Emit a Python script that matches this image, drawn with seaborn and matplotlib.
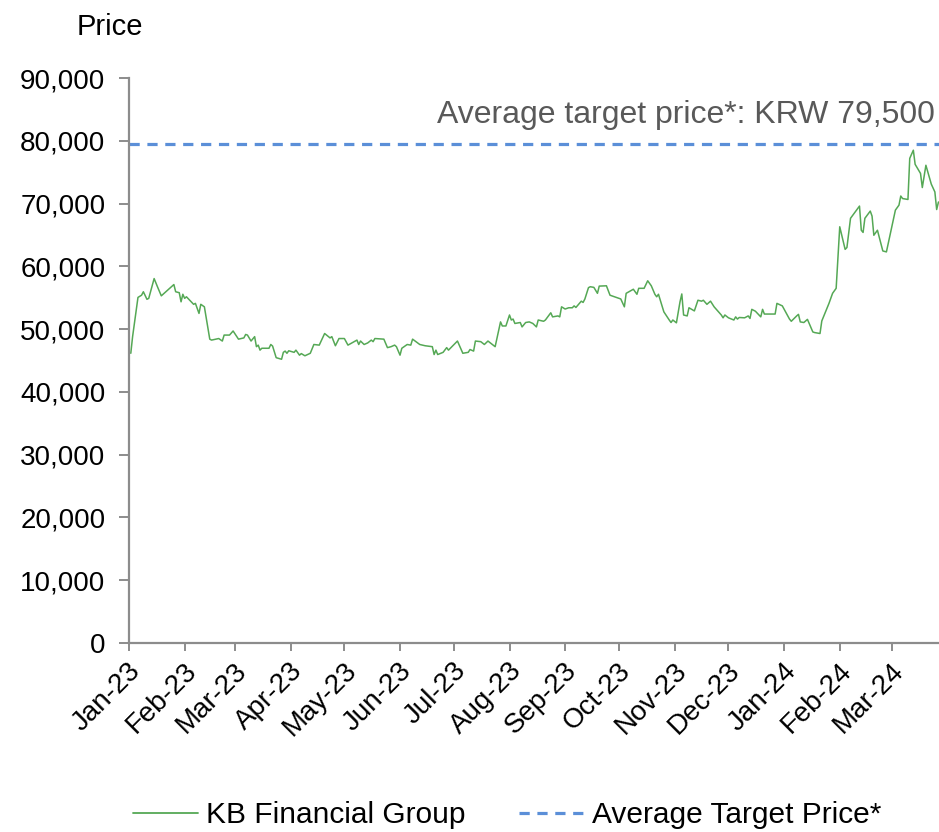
import matplotlib
matplotlib.use("Agg")
import matplotlib.pyplot as plt
import matplotlib.dates as mdates
import matplotlib.transforms as mtransforms
from matplotlib.lines import Line2D
import seaborn as sns
import pandas as pd

# ---- data ----
days_since_2023_01_01 = [
    1, 2, 5, 7, 8, 10, 11, 14, 16, 18, 25, 26, 28, 29, 30, 31, 32, 36, 37, 39,
    40, 42, 45, 46, 50, 52, 53, 56, 58, 61, 64, 65, 66, 68, 70, 71, 72, 73, 74,
    78, 79, 80, 82, 85, 86, 87, 88, 89, 92, 93, 95, 96, 98, 101, 103, 106, 109,
    112, 113, 115, 117, 120, 122, 127, 128, 129, 131, 133, 135, 136, 137, 142,
    144, 146, 148, 149, 151, 152, 155, 157, 158, 162, 165, 169, 170, 171, 172,
    175, 177, 178, 183, 184, 186, 189, 190, 192, 193, 196, 198, 200, 204, 207,
    208, 210, 212, 213, 214, 215, 218, 219, 221, 223, 225, 227, 228, 231, 232,
    235, 236, 239, 240, 241, 243, 245, 247, 248, 249, 252, 253, 254, 256, 257,
    259, 261, 262, 266, 268, 274, 276, 277, 280, 281, 283, 284, 287, 289, 291,
    293, 294, 295, 298, 301, 302, 303, 305, 307, 308, 309, 311, 312, 315, 317,
    319, 320, 322, 324, 326, 330, 331, 332, 334, 337, 338, 339, 340, 343, 345,
    346, 347, 349, 352, 353, 354, 360, 361, 364, 368, 369, 372, 373, 374, 376,
    378, 381, 382, 385, 386, 390, 392, 394, 396, 399, 400, 402, 407, 408, 409,
    410, 413, 414, 415, 417, 420, 422, 427, 429, 430, 431, 434, 435, 437, 438,
    441, 442, 444, 447, 449, 450, 451,
]
price_krw = [
    46150, 48800, 55050, 55400, 55950, 54750, 54900, 58050, 56650, 55300,
    57100, 55950, 55800, 54350, 55550, 54900, 55150, 53950, 54100, 52500,
    53950, 53550, 48400, 48250, 48500, 48100, 49050, 49050, 49700, 48400,
    48600, 49150, 49050, 48100, 48800, 47200, 47450, 46650, 46950,
    46950, 47550, 47300, 45450, 45200, 46300, 46500, 46150, 46550, 46300,
    46650, 45850, 46100, 45750, 46150, 47550, 47450, 49300,
    48600, 48800, 47350, 48500, 48500, 47450, 48250, 47550, 48100, 47550,
    47800, 48250, 48000, 48500, 48400,
    47050, 47200, 47450, 47200, 45850, 46950, 47550, 47450, 48400, 47550,
    47350, 47200, 45950, 46650, 45950,
    46300, 47050, 46650, 48100, 47450, 46150, 46300, 46750, 46500, 48100,
    48000, 47550, 48100, 47200, 51150,
    50500, 50500, 52250, 51450, 51600, 50900, 51050, 50350, 51050, 51150,
    50900, 50350, 51450, 51250, 51450,
    52600, 51950, 52100, 51950, 53550, 53200, 53400, 53400, 53700, 53450,
    54450, 54250, 54800, 56600, 56750,
    56650, 55700, 56850, 56900, 55400, 54800, 53550, 55700, 56200, 56350,
    55550, 56500, 56500, 57700, 56900,
    55550, 55150, 55550, 52750, 51450, 51050, 51450, 51000, 54350, 55600,
    52250, 52100, 53400, 52900, 54600,
    54450, 54600, 53950, 54450, 53550, 52250, 51800, 52250, 51800, 51450,
    51950, 51600, 51850, 51800, 52100,
    51700, 53150, 52850, 51950, 53150, 52400, 52400, 54100, 53700, 51600,
    51250, 52100, 52350, 51150, 51050,
    51550, 49550, 49450, 49300, 51300, 54100, 55700, 56500, 66300, 62700,
    63000, 67650, 69600, 65750, 65400,
    67650, 68800, 68000, 64950, 65750, 62450, 62300, 68950, 69750, 71200,
    70800, 70650, 77200, 78500, 76250,
    74800, 72550, 76100, 73100, 71850, 69050, 70250,
]
series_name = "KB Financial Group"
target_name = "Average Target Price*"
average_target_price = 79500
annotation_text = "Average target price*: KRW 79,500"
y_ticks = [0, 10000, 20000, 30000, 40000, 50000, 60000, 70000, 80000, 90000]
month_ticks = pd.date_range("2023-01-01", "2024-03-01", freq="MS")

start = pd.Timestamp("2023-01-01")
df = pd.DataFrame({
    "date": start + pd.to_timedelta(days_since_2023_01_01, unit="D"),
    "price": price_krw,
})

# ---- style ----
sns.set_style("white")
plt.rcParams["font.family"] = ["Liberation Sans", "DejaVu Sans"]
plt.rcParams["text.color"] = "black"

W, H = 939, 832
fig = plt.figure(figsize=(W / 100, H / 100), dpi=100)
ax = fig.add_axes([129 / W, (H - 643) / H, 1 - 129 / W, (643 - 78) / H])

green = "#55a855"
blue = "#5b8fd8"
gray = "#8c8c8c"

sns.lineplot(data=df, x="date", y="price", ax=ax, color=green, linewidth=1.1,
             legend=False)
ax.axhline(average_target_price, color=blue, linewidth=2.3,
           dashes=(3.2, 2.4))

ax.set_ylim(0, 90000)
ax.set_xlim(start, start + pd.Timedelta(days=451.3))
ax.set_yticks(y_ticks)
ax.set_yticklabels([f"{v:,}" for v in y_ticks])
ax.set_xticks(month_ticks)
ax.xaxis.set_major_formatter(mdates.DateFormatter("%b-%y"))
ax.set_xlabel("")
ax.set_ylabel("")

for s in ["top", "right"]:
    ax.spines[s].set_visible(False)
for s in ["left", "bottom"]:
    ax.spines[s].set_color(gray)
    ax.spines[s].set_linewidth(1.6)

ax.tick_params(axis="y", direction="out", length=7, width=1.4, color=gray,
               labelsize=20, pad=10, left=True, labelcolor="black")
ax.tick_params(axis="x", direction="out", length=6, width=1.4, color=gray,
               labelsize=20, pad=9, bottom=True, labelcolor="black")
offset = mtransforms.ScaledTranslation(0.08, -0.03, fig.dpi_scale_trans)
for lab in ax.get_xticklabels():
    lab.set_rotation(45)
    lab.set_ha("right")
    lab.set_va("center")
    lab.set_rotation_mode("anchor")
    lab.set_transform(lab.get_transform() + offset)

fig.text(77 / W, (H - 35) / H, "Price", fontsize=21, va="baseline",
         ha="left", color="black")
fig.text(935 / W, (H - 123) / H, annotation_text, fontsize=23,
         va="baseline", ha="right", color="#595959")

handles = [
    Line2D([], [], color=green, linewidth=1.3),
    Line2D([], [], color=blue, linewidth=2.3, dashes=(3.2, 2.4)),
]
leg = fig.legend(handles, [series_name, target_name], ncol=2, frameon=False,
                 loc="center", bbox_to_anchor=(507 / W, (H - 815) / H),
                 handlelength=2.2, handletextpad=0.25, columnspacing=1.8,
                 labelcolor="black",
                 prop={"family": ["Liberation Sans"], "size": 21.5})

fig.savefig("out.png", dpi=100, facecolor="white")
